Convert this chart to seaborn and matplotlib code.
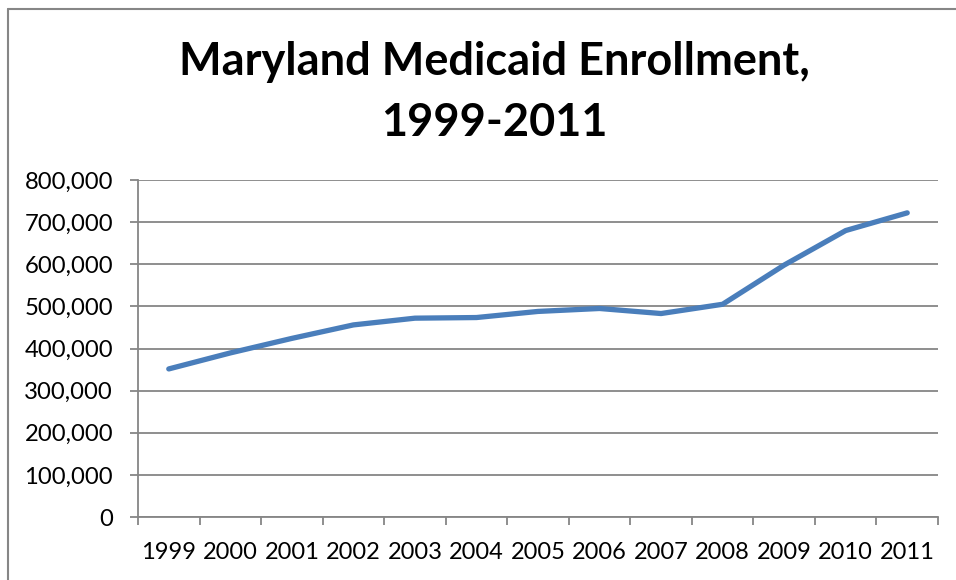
import matplotlib
matplotlib.use("Agg")
import matplotlib.pyplot as plt
import seaborn as sns
import pandas as pd
import numpy as np
from matplotlib.lines import Line2D
from matplotlib.ticker import FuncFormatter, FixedLocator

years = ["1999", "2000", "2001", "2002", "2003", "2004", "2005",
         "2006", "2007", "2008", "2009", "2010", "2011"]
enrollment = [351500, 389500, 424000, 456000, 472000, 473500, 488000,
              495000, 483000, 505000, 598000, 680000, 722000]
y_ticks = [0, 100000, 200000, 300000, 400000, 500000, 600000, 700000, 800000]
title_lines = ["Maryland Medicaid Enrollment,", "1999-2011"]

sns.set_theme(style="white")
plt.rcParams['font.family'] = ['Lato', 'DejaVu Sans']

fig = plt.figure(figsize=(9.56, 5.80), dpi=100)
ax = fig.add_axes([138/956, 1-517/580, 800/956, 337/580])

df = pd.DataFrame({"year": years, "enrollment": enrollment})
df["pos"] = np.arange(len(years))
sns.lineplot(data=df, x="pos", y="enrollment", ax=ax, color="#4A7EBB",
             linewidth=3.8, solid_capstyle="round", solid_joinstyle="round")

ax.set_xlim(-0.5, len(years) - 0.5)
ax.set_ylim(0, 800000)
ax.set_yticks(y_ticks)
ax.yaxis.set_major_formatter(FuncFormatter(lambda v, p: f"{int(v):,}"))
ax.grid(axis="y", color="#868686", linewidth=1.3)
ax.set_axisbelow(True)

ax.set_xticks(np.arange(len(years)))
ax.set_xticklabels(years)
ax.xaxis.set_minor_locator(FixedLocator(np.arange(-0.5, len(years), 1.0)))
ax.tick_params(axis="x", which="major", length=0, pad=18, labelsize=17, labelcolor="#000000")
ax.tick_params(axis="x", which="minor", length=6, width=1.3, color="#868686", bottom=True)
ax.tick_params(axis="y", which="major", length=6, width=1.3, color="#868686", left=True,
               pad=12, labelsize=17.2, labelcolor="#000000")
ax.set_xlabel("")
ax.set_ylabel("")

for s in ["top", "right"]:
    ax.spines[s].set_visible(False)
for s in ["left", "bottom"]:
    ax.spines[s].set_visible(True)
    ax.spines[s].set_color("#868686")
    ax.spines[s].set_linewidth(1.3)

fig.text(494/956, 1-62/580, title_lines[0], ha="center", va="center",
         fontsize=32.5, fontweight="bold", color="#000000")
fig.text(494/956, 1-123/580, title_lines[1], ha="center", va="center",
         fontsize=32.5, fontweight="bold", color="#000000")

# chart frame (partial, as in reference)
bx, by = 8/956, 1-9/580
fig.add_artist(Line2D([bx, bx], [0, by], transform=fig.transFigure, color="#868686", linewidth=1.5))
fig.add_artist(Line2D([bx, 1], [by, by], transform=fig.transFigure, color="#868686", linewidth=1.5))

fig.savefig("out.png", dpi=100)
